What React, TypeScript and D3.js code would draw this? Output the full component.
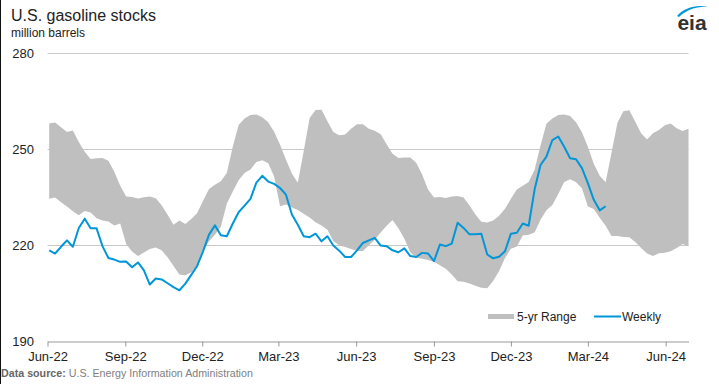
import { useEffect, useRef } from "react";
import * as d3 from "d3";

// weekly U.S. gasoline stocks (million barrels), first week Jun 3 2022
const weekly = [
  218.4, 217.4, 219.5, 221.5, 219.5, 225.4, 228.3, 225.3, 225.3, 219.7,
  216.0, 215.5, 214.8, 214.9, 213.1, 214.6, 212.1, 207.7, 209.6, 209.3,
  208.1, 206.9, 205.9, 208.0, 210.7, 213.5, 218.1, 223.3, 226.2, 223.1,
  222.8, 226.7, 230.3, 232.4, 234.5, 239.6, 241.7, 239.9, 239.2, 237.9,
  235.8, 229.6, 226.4, 222.8, 222.5, 223.6, 221.2, 222.8, 219.9, 218.3,
  216.3, 216.3, 218.4, 220.7, 221.5, 222.3, 219.9, 219.7, 218.4, 217.8,
  219.0, 216.6, 216.3, 217.6, 217.4, 215.0, 220.2, 219.7, 220.5, 227.0,
  225.4, 223.4, 223.4, 223.6, 217.1, 215.9, 216.4, 218.1, 223.6, 223.9,
  226.8, 226.1, 237.4, 245.1, 247.7, 252.9, 254.0, 250.8, 247.2, 246.9,
  244.1, 239.4, 234.2, 230.9, 232.2,
];

// 5-yr range, top edge
const rangeHigh = [
  258.1, 258.4, 256.9, 255.4, 255.9, 252.3, 249.2, 247.0, 247.2, 247.3,
  246.4, 243.0, 238.6, 235.2, 235.1, 234.6, 235.0, 235.2, 234.7, 232.5,
  229.5, 226.4, 227.7, 226.6, 228.2, 230.1, 233.9, 237.6, 238.9, 240.0,
  242.6, 250.7, 257.6, 259.6, 260.7, 260.9, 260.0, 258.5, 255.5, 251.4,
  246.7, 242.4, 239.5, 249.5, 259.8, 262.3, 262.4, 258.8, 255.4, 254.4,
  254.6, 256.4, 257.8, 257.8, 256.4, 255.8, 254.7, 251.6, 248.6, 247.3,
  247.4, 247.4, 245.8, 242.1, 237.4, 234.9, 235.1, 234.8, 235.2, 235.4,
  234.9, 232.4, 229.6, 227.3, 227.1, 227.7, 229.2, 231.4, 234.5, 237.4,
  238.6, 239.8, 243.6, 251.2, 258.0, 259.6, 260.7, 260.9, 260.4, 258.5,
  255.3, 250.8, 245.5, 241.7, 239.7, 249.0, 258.3, 261.9, 262.2, 258.6,
  255.0, 253.1, 255.0, 256.0, 257.5, 258.1, 256.6, 255.7, 256.4,
];

// 5-yr range, bottom edge
const rangeLow = [
  234.5, 234.9, 233.4, 232.1, 230.6, 229.4, 230.7, 230.2, 228.4, 227.7,
  227.4, 226.2, 226.8, 220.4, 218.0, 216.6, 217.7, 218.8, 219.3, 218.4,
  216.2, 213.5, 210.8, 210.6, 211.5, 213.6, 218.2, 221.2, 223.3, 225.8,
  233.0, 236.7, 240.3, 242.6, 243.7, 246.0, 246.6, 245.6, 241.5, 232.2,
  232.7, 231.8, 231.0, 229.8, 228.7, 227.2, 226.2, 224.8, 221.3, 220.0,
  219.4, 218.8, 218.2, 218.2, 220.0, 221.7, 224.0, 226.1, 227.9, 225.3,
  222.0, 217.8, 216.1, 215.8, 215.4, 214.8, 213.7, 212.6, 210.8, 208.7,
  208.6, 208.0, 207.3, 206.7, 206.5, 208.8, 211.9, 216.0, 218.9, 219.6,
  223.0, 223.3, 224.0, 228.0, 230.9, 232.6, 236.0, 239.8, 240.6, 239.7,
  237.8, 232.1, 231.3, 228.6, 226.1, 222.9, 222.9, 222.6, 222.5, 221.0,
  219.1, 217.4, 216.6, 217.5, 217.6, 218.1, 219.1, 220.4, 219.7,
];

const yTicks = [190, 220, 250, 280];
const xTickMonths = [
  "2022-06", "2022-09", "2022-12", "2023-03", "2023-06",
  "2023-09", "2023-12", "2024-03", "2024-06",
];

const firstWeek = new Date(2022, 5, 3);
const weekDate = (i: number) => d3.timeDay.offset(firstWeek, 7 * i);
const monthDate = d3.timeParse("%Y-%m");

const FONT = "'Liberation Sans', Arial, Helvetica, sans-serif";
const BLUE = "#0096d7";
const BAND = "#bfbfbf";

export default function App() {
  const svgRef = useRef<SVGSVGElement>(null);

  useEffect(() => {
    const svg = d3.select(svgRef.current);
    svg.selectAll("*").remove();

    const x = d3.scaleTime()
      .domain([new Date(2022, 5, 1), new Date(2024, 5, 28)])
      .range([47.5, 688.5]);
    const y = d3.scaleLinear().domain([190, 280]).range([341.1, 53.4]);
    const [x0, x1] = x.range();

    // left frame edge
    svg.append("rect").attr("x", 0).attr("y", 0).attr("width", 1).attr("height", 384).attr("fill", "#111");

    // title
    svg.append("text").attr("x", 11).attr("y", 21)
      .attr("font-family", FONT).attr("font-size", 16).attr("fill", "#222")
      .text("U.S. gasoline stocks");
    svg.append("text").attr("x", 11).attr("y", 36.5)
      .attr("font-family", FONT).attr("font-size", 12).attr("fill", "#222")
      .text("million barrels");

    // eia logo
    const logo = svg.append("g");
    logo.append("path")
      .attr("d", "M677,16 C684,8 696,4 709,7 C697,6 686,10 679,17 Z")
      .attr("fill", BLUE);
    logo.append("text").attr("x", 692).attr("y", 30).attr("text-anchor", "middle")
      .attr("font-family", FONT).attr("font-size", 21).attr("font-weight", "bold")
      .attr("fill", "#333").text("eia");

    // grid lines
    svg.append("g").selectAll("line")
      .data(yTicks.filter(d => d > 190))
      .join("line")
      .attr("x1", x0).attr("x2", x1)
      .attr("y1", d => Math.round(y(d)) + 0.5).attr("y2", d => Math.round(y(d)) + 0.5)
      .attr("stroke", "#c8c8c8").attr("stroke-width", 1);

    // y labels
    svg.append("g").selectAll("text")
      .data(yTicks)
      .join("text")
      .attr("x", 34).attr("y", d => y(d)).attr("dy", "0.35em")
      .attr("text-anchor", "end")
      .attr("font-family", FONT).attr("font-size", 13).attr("fill", "#222")
      .text(d => d);

    // 5-yr range band
    const band = d3.area<number>()
      .x((d, i) => x(weekDate(i)))
      .y0((d, i) => y(rangeLow[i]))
      .y1(d => y(d));
    svg.append("path")
      .datum(rangeHigh)
      .attr("d", band)
      .attr("fill", BAND);

    // weekly line
    const line = d3.line<number>()
      .x((d, i) => x(weekDate(i)))
      .y(d => y(d));
    svg.append("path")
      .datum(weekly)
      .attr("d", line)
      .attr("fill", "none")
      .attr("stroke", BLUE)
      .attr("stroke-width", 2)
      .attr("stroke-linejoin", "round");

    // x axis
    const xAxis = d3.axisBottom(x)
      .tickValues(xTickMonths.map(m => monthDate(m) as Date))
      .tickFormat(d => d3.timeFormat("%b-%y")(d as Date))
      .tickSize(5)
      .tickSizeOuter(0)
      .tickPadding(5);
    const axisG = svg.append("g")
      .attr("transform", `translate(0,${Math.round(y(190)) + 0.5})`)
      .call(xAxis);
    axisG.select(".domain").attr("stroke", "#999");
    axisG.selectAll(".tick line").attr("stroke", "#999");
    axisG.selectAll(".tick text")
      .attr("font-family", FONT).attr("font-size", 13).attr("fill", "#222");

    // legend
    const leg = svg.append("g").attr("font-family", FONT).attr("font-size", 12).attr("fill", "#222");
    leg.append("rect").attr("x", 488).attr("y", 314).attr("width", 26).attr("height", 5).attr("fill", BAND);
    leg.append("text").attr("x", 517).attr("y", 320.5).text("5-yr Range");
    leg.append("line").attr("x1", 594).attr("x2", 621).attr("y1", 316.5).attr("y2", 316.5)
      .attr("stroke", BLUE).attr("stroke-width", 2);
    leg.append("text").attr("x", 622).attr("y", 320.5).text("Weekly");

    // source note
    const src = svg.append("text").attr("x", 1).attr("y", 377)
      .attr("font-family", FONT).attr("font-size", 10.7).attr("fill", "#808080");
    src.append("tspan").attr("font-weight", "bold").attr("fill", "#666").text("Data source:");
    src.append("tspan").text(" U.S. Energy Information Administration");
  }, []);

  return (
    <div>
      <style>{`body{margin:0}`}</style>
      <svg ref={svgRef} width={719} height={384} style={{ display: "block", background: "#fff" }} />
    </div>
  );
}
